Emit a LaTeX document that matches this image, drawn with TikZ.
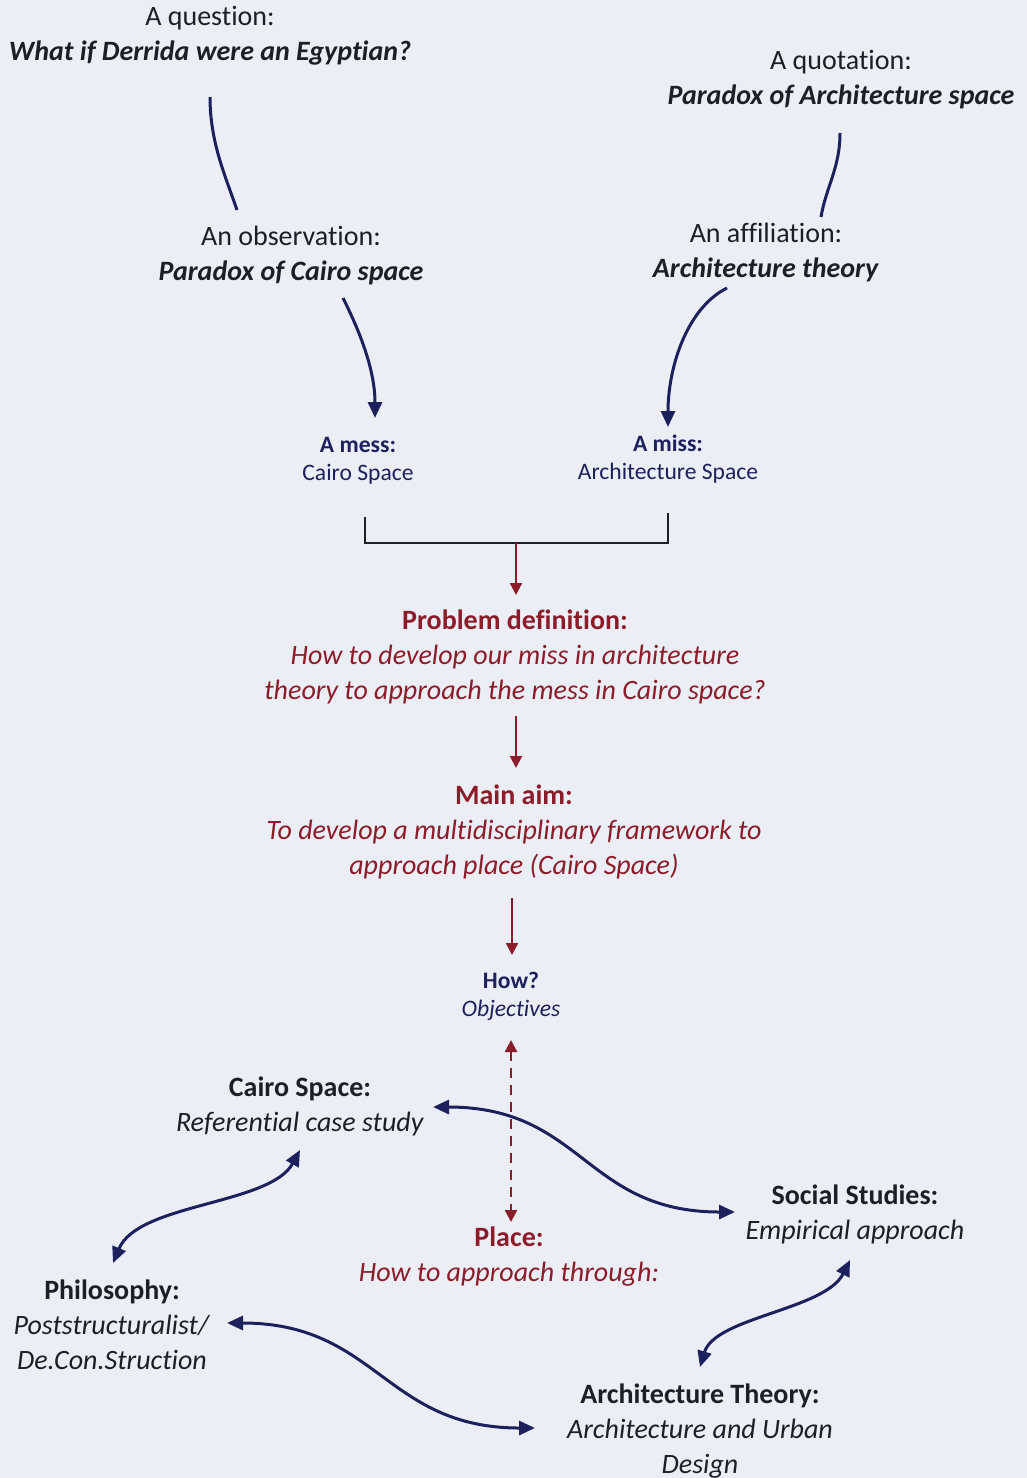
\documentclass[tikz,border=0pt]{standalone}
\usepackage{fontspec}
\setmainfont{Carlito}[Ligatures=NoCommon]
\usetikzlibrary{arrows.meta, calc}

\definecolor{paper}{RGB}{236,238,246}
\definecolor{ink}{RGB}{30,30,38}
\definecolor{navy}{RGB}{28,32,92}
\definecolor{wine}{RGB}{140,28,42}

\begin{document}
\begin{tikzpicture}[x=0.5pt, y=-0.5pt,
    big/.style={align=center, inner sep=0pt, text=ink, font=\fontsize{14}{17.5}\selectfont},
    small/.style={align=center, inner sep=0pt, text=navy, font=\fontsize{11.8}{14}\selectfont},
    link/.style={navy, line width=1.5pt},
    pointer/.style={link, -{Triangle[length=8pt,width=7pt]}},
    swing/.style={link, {Triangle[length=8pt,width=7pt]}-{Triangle[length=8pt,width=7pt]}},
    flow/.style={wine, line width=1.1pt, -{Triangle[length=6pt,width=6pt]}},
]
    \fill[paper] (0,0) rectangle (1027,1478);
    \useasboundingbox (0,0) rectangle (1027,1478);

    % Starting points
    \node[big] (question) at (210,35.5) {A question:\\\textbf{\textit{What if Derrida were an Egyptian?}}};
    \node[big] (quotation) at (841,79.5) {A quotation:\\\textbf{\textit{Paradox of Architecture space}}};
    \node[big] (observation) at (291,255.5) {An observation:\\\textbf{\textit{Paradox of Cairo space}}};
    \node[big] (affiliation) at (766,252.5) {An affiliation:\\\textbf{\textit{Architecture theory}}};

    \draw[link] ($(question)+(0,61.5)$) .. controls +(0,45) and +(-12,-35) .. ($(observation)+(-54,-45.5)$);
    \draw[link] ($(quotation)+(-1,53.5)$) .. controls +(0,35) and +(5,-30) .. ($(affiliation)+(55,-35.5)$);

    % Mess and miss
    \node[small] (mess) at (358,461) {\textbf{A mess:}\\Cairo Space};
    \node[small] (miss) at (668,459) {\textbf{A miss:}\\Architecture Space};

    \draw[pointer] ($(observation)+(52,42.5)$) .. controls +(15,30) and +(0,-50) .. ($(mess)+(17,-43)$);
    \draw[pointer] ($(affiliation)+(-39,35.5)$) .. controls +(-40,20) and +(0,-60) .. ($(miss)+(0,-32)$);

    % Bracket joining the two
    \coordinate (join) at ($(mess)!0.5!(miss)+(3,83)$);
    \draw[ink, line width=1pt] ($(mess)+(7,56)$) |- (join) -| ($(miss)+(0,54)$);

    % Red chain
    \node[big, text=wine] (problem) at (515,656.5) {\textbf{Problem definition:}\\\textit{How to develop our miss in architecture}\\\textit{theory to approach the mess in Cairo space?}};
    \node[big, text=wine] (aim) at (514,832) {\textbf{Main aim:}\\\textit{To develop a multidisciplinary framework to}\\\textit{approach place (Cairo Space)}};
    \node[small] (how) at (511,996) {\textbf{How?}\\\textit{Objectives}};
    \node[big, text=wine] (place) at (509,1257) {\textbf{Place:}\\\textit{How to approach through:}};

    \draw[flow] (join) -- ($(problem)+(1,-61.5)$);
    \draw[flow] ($(problem)+(1,59.5)$) -- ($(aim)+(2,-64)$);
    \draw[flow] ($(aim)+(-2,66)$) -- ($(how)+(1,-41)$);
    \draw[wine, line width=1.2pt, dash pattern=on 5pt off 3.5pt, {Triangle[length=6pt,width=6pt]}-{Triangle[length=6pt,width=6pt]}] ($(how)+(0,44)$) -- ($(place)+(2,-35)$);

    % Four fields
    \node[big] (cairo) at (300,1106.5) {\textbf{Cairo Space:}\\\textit{Referential case study}};
    \node[big] (social) at (855,1214.5) {\textbf{Social Studies:}\\\textit{Empirical approach}};
    \node[big] (philosophy) at (112,1324.5) {\textbf{Philosophy:}\\\textit{Poststructuralist/}\\\textit{De.Con.Struction}};
    \node[big] (archtheory) at (700,1431) {\textbf{Architecture Theory:}\\\textit{Architecture and Urban}\\\textit{Design}};

    \draw[swing] ($(cairo)+(133,0.5)$) .. controls +(150,0) and +(-150,0) .. ($(social)+(-120,-2.5)$);
    \draw[swing] ($(philosophy)+(1,-61.5)$) .. controls +(25,-60) and +(-30,55) .. ($(cairo)+(0,43.5)$);
    \draw[swing] ($(philosophy)+(115,-1.5)$) .. controls +(150,0) and +(-150,0) .. ($(archtheory)+(-165,-3)$);
    \draw[swing] ($(archtheory)+(0,-64)$) .. controls +(15,-50) and +(-25,50) .. ($(social)+(-5,45.5)$);
\end{tikzpicture}
\end{document}
